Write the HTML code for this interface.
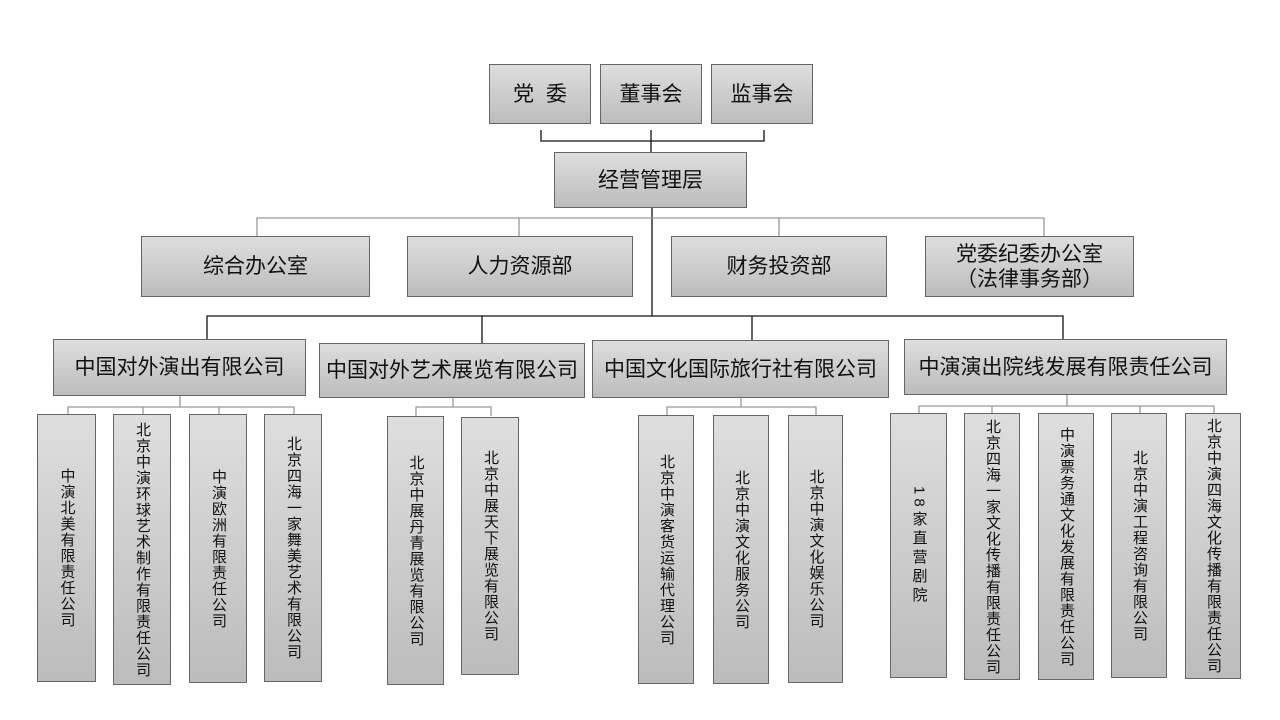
<!DOCTYPE html>
<html><head><meta charset="utf-8"><style>
body{margin:0;width:1280px;height:720px;background:#fff;position:relative;overflow:hidden;font-family:"Liberation Sans","Noto Sans CJK SC",sans-serif;color:#111}
.b{position:absolute;box-sizing:border-box;border:1px solid #666;background:linear-gradient(#dedede,#bcbcbc);display:flex;align-items:center;justify-content:center;text-align:center;font-size:21px;line-height:25px}
.v{writing-mode:vertical-rl;font-size:15px;letter-spacing:1px;line-height:16px}
svg{position:absolute;left:0;top:0}
</style></head><body>
<svg width="1280" height="720">
<g stroke="#111" stroke-width="1.3" fill="none">
<path d="M541 130V141H764V130M651 130V153M652 208V316M207 340V316H1063V340M482 316V343M752 316V340"/>
</g>
<g stroke="#999" stroke-width="1.3" fill="none">
<path d="M257 236V218H1044V236M519 218V236M779 218V236"/>
<path d="M180 396V407M68 414V407H294V414M143 407V414M219 407V414"/>
<path d="M453 398V407M416 416V407H491V416"/>
<path d="M741 398V407M667 415V407H816V415"/>
<path d="M1067 395V406M919 413V406H1214V413M992 406V413M1140 406V413"/>
</g>
</svg>
<div class="b" style="left:489px;top:64px;width:102px;height:60px">党&nbsp;&nbsp;委</div>
<div class="b" style="left:600px;top:64px;width:102px;height:60px">董事会</div>
<div class="b" style="left:711px;top:64px;width:102px;height:60px">监事会</div>
<div class="b" style="left:554px;top:152px;width:193px;height:56px">经营管理层</div>
<div class="b" style="left:141px;top:236px;width:229px;height:61px">综合办公室</div>
<div class="b" style="left:407px;top:236px;width:226px;height:61px">人力资源部</div>
<div class="b" style="left:671px;top:236px;width:216px;height:61px">财务投资部</div>
<div class="b" style="left:925px;top:236px;width:209px;height:61px">党委纪委办公室<br>（法律事务部）</div>
<div class="b" style="left:53px;top:339px;width:253px;height:57px">中国对外演出有限公司</div>
<div class="b" style="left:319px;top:343px;width:266px;height:55px">中国对外艺术展览有限公司</div>
<div class="b" style="left:592px;top:340px;width:297px;height:58px">中国文化国际旅行社有限公司</div>
<div class="b" style="left:904px;top:339px;width:323px;height:56px">中演演出院线发展有限责任公司</div>

<div class="b v" style="left:37px;top:414px;width:59px;height:268px">中演北美有限责任公司</div>
<div class="b v" style="left:113px;top:414px;width:58px;height:271px">北京中演环球艺术制作有限责任公司</div>
<div class="b v" style="left:189px;top:414px;width:58px;height:269px">中演欧洲有限责任公司</div>
<div class="b v" style="left:264px;top:414px;width:58px;height:268px">北京四海一家舞美艺术有限公司</div>

<div class="b v" style="left:387px;top:416px;width:57px;height:269px">北京中展丹青展览有限公司</div>
<div class="b v" style="left:461px;top:417px;width:58px;height:258px">北京中展天下展览有限公司</div>

<div class="b v" style="left:638px;top:415px;width:56px;height:269px">北京中演客货运输代理公司</div>
<div class="b v" style="left:713px;top:415px;width:56px;height:269px">北京中演文化服务公司</div>
<div class="b v" style="left:788px;top:415px;width:55px;height:268px">北京中演文化娱乐公司</div>

<div class="b v" style="left:890px;top:413px;width:57px;height:265px;letter-spacing:4px">18家直营剧院</div>
<div class="b v" style="left:964px;top:413px;width:56px;height:267px">北京四海一家文化传播有限责任公司</div>
<div class="b v" style="left:1038px;top:413px;width:56px;height:267px">中演票务通文化发展有限责任公司</div>
<div class="b v" style="left:1111px;top:413px;width:56px;height:265px">北京中演工程咨询有限公司</div>
<div class="b v" style="left:1185px;top:413px;width:56px;height:266px">北京中演四海文化传播有限责任公司</div>
</body></html>
